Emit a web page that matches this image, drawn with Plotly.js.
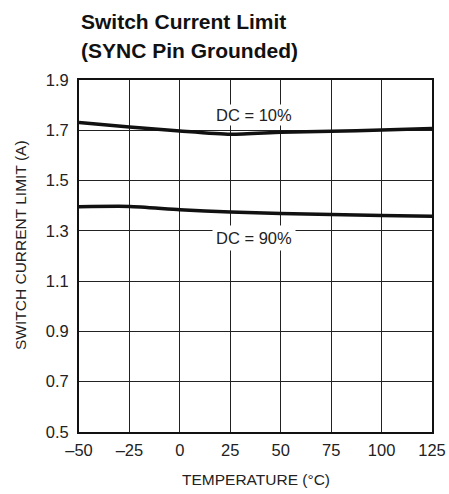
<!DOCTYPE html>
<html><head><meta charset="utf-8">
<script src="https://cdn.plot.ly/plotly-3.0.1.min.js"></script>
<style>body{margin:0;background:#fff}#c{width:449px;height:494px}</style>
</head><body><div id="c"></div>
<script>
const temps = [-50, -25, 0, 25, 50, 75, 100, 125];
const dc10 = [1.731, 1.713, 1.697, 1.684, 1.692, 1.696, 1.701, 1.707];
const dc90 = [1.396, 1.397, 1.384, 1.375, 1.369, 1.365, 1.361, 1.358];
const xTicks = [-50, -25, 0, 25, 50, 75, 100, 125];
const xTickText = ['–50', '–25', '0', '25', '50', '75', '100', '125'];
const yTicks = [0.5, 0.7, 0.9, 1.1, 1.3, 1.5, 1.7, 1.9];
const yTickText = ['0.5', '0.7', '0.9', '1.1', '1.3', '1.5', '1.7', '1.9'];
const titleLines = ['Switch Current Limit', '(SYNC Pin Grounded)'];
const xTitle = 'TEMPERATURE (°C)';
const yTitle = 'SWITCH CURRENT LIMIT (A)';
const FONT = '"Liberation Sans Narrow", "Arial Narrow", "Liberation Sans", sans-serif';

const M = {l: 79, r: 17, t: 80, b: 62};
const W = 449, H = 494;
const PH = H - M.t - M.b, PW = W - M.l - M.r;
const py = p => (H - M.b - p) / PH;   // pixel row -> paper y
const px = p => (p - M.l) / PW;       // pixel col -> paper x

const traces = [
  {x: temps, y: dc10, mode: 'lines', line: {color: '#111', width: 3.5, shape: 'spline', smoothing: 0.6}, showlegend: false, hoverinfo: 'skip'},
  {x: temps, y: dc90, mode: 'lines', line: {color: '#111', width: 3.5, shape: 'spline', smoothing: 0.6}, showlegend: false, hoverinfo: 'skip'}
];
const layout = {
  width: W, height: H,
  margin: M,
  paper_bgcolor: '#fff', plot_bgcolor: '#fff',
  font: {family: FONT, color: '#222', size: 16},
  xaxis: {range: [-50, 125], tickvals: xTicks, ticktext: xTickText, showgrid: true, gridcolor: '#222', gridwidth: 1, zeroline: false,
    showline: true, linecolor: '#111', linewidth: 2, mirror: true, ticks: '', tickfont: {size: 16.5}, ticklabelstandoff: 2},
  yaxis: {range: [0.5, 1.9], tickvals: yTicks, ticktext: yTickText, showgrid: true, gridcolor: '#222', gridwidth: 1, zeroline: false,
    showline: true, linecolor: '#111', linewidth: 2, mirror: true, ticks: '', tickfont: {size: 16.5}, ticklabelstandoff: 5},
  annotations: [
    {x: px(79), y: py(22), xref: 'paper', yref: 'paper', xanchor: 'left', yanchor: 'middle', text: '<b>' + titleLines[0] + '</b>', showarrow: false, font: {size: 21, color: '#111'}},
    {x: px(79), y: py(50), xref: 'paper', yref: 'paper', xanchor: 'left', yanchor: 'middle', text: '<b>' + titleLines[1] + '</b>', showarrow: false, font: {size: 21, color: '#111'}},
    {x: px(256), y: py(480), xref: 'paper', yref: 'paper', xanchor: 'center', yanchor: 'middle', text: xTitle, showarrow: false, font: {size: 15.5, color: '#222'}},
    {x: px(20), y: py(245), xref: 'paper', yref: 'paper', xanchor: 'center', yanchor: 'middle', textangle: -90, text: yTitle, showarrow: false, font: {size: 15.5, color: '#222'}},
    {x: 37, y: 1.762, xref: 'x', yref: 'y', text: 'DC = 10%', showarrow: false, font: {size: 16.5, color: '#222'}, bgcolor: '#fff'},
    {x: 37, y: 1.27, xref: 'x', yref: 'y', text: 'DC = 90%', showarrow: false, font: {size: 16.5, color: '#222'}, bgcolor: '#fff', borderpad: 3}
  ]
};
Plotly.newPlot('c', traces, layout, {displayModeBar: false, staticPlot: true});
</script>
</body></html>
